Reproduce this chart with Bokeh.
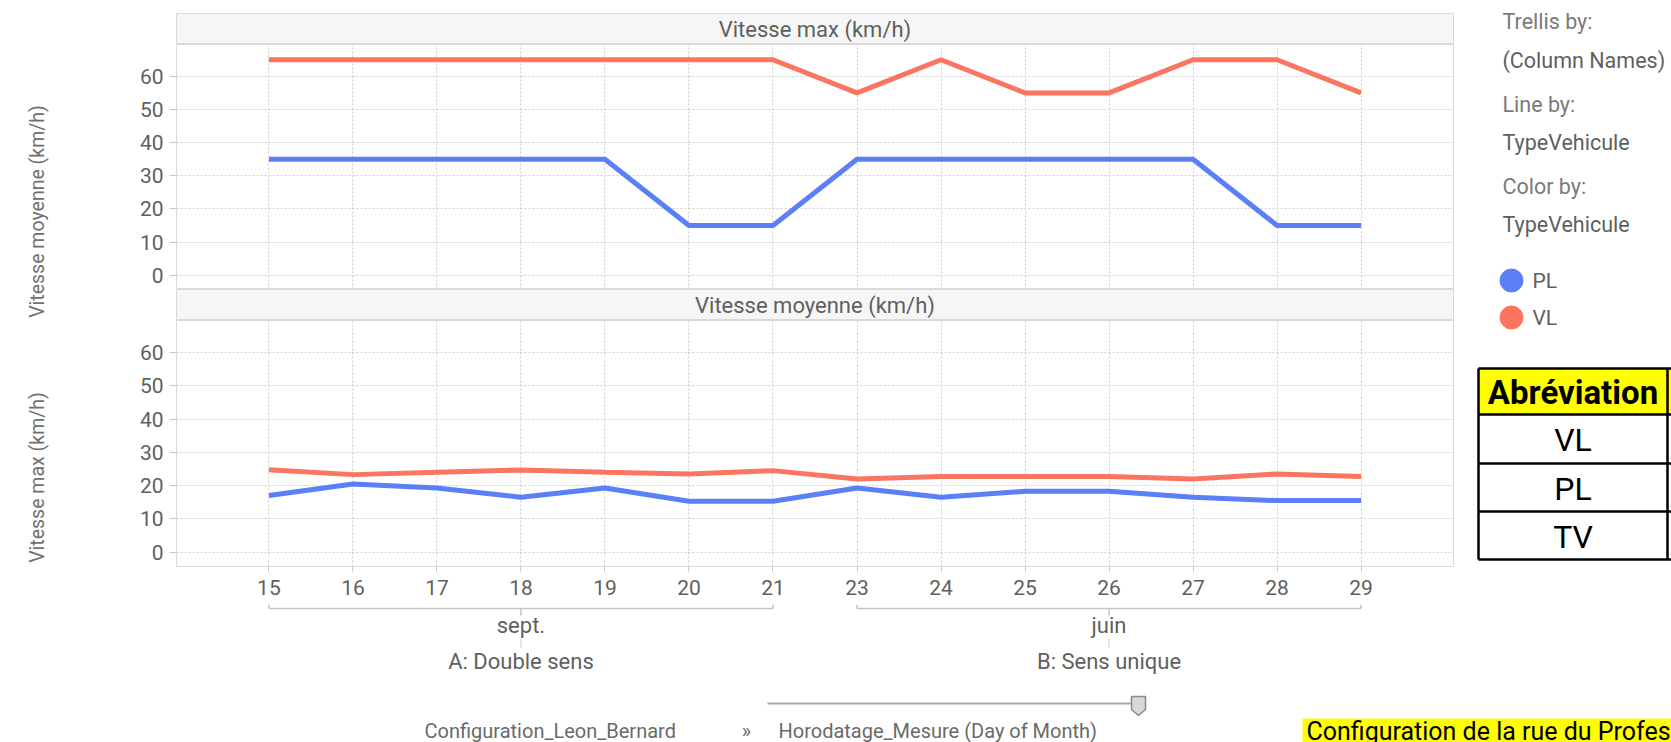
import math
from bokeh.plotting import figure
from bokeh.models import FactorRange, Range1d, FixedTicker
from bokeh.layouts import row, column
from bokeh.embed import file_html
from bokeh.resources import INLINE
from bokeh.core.properties import value

# ---------------- data ----------------
days = ["15", "16", "17", "18", "19", "20", "21", "23", "24", "25", "26", "27", "28", "29"]
months = ["sept."] * 7 + ["juin"] * 7
configs = ["A: Double sens"] * 7 + ["B: Sens unique"] * 7

vmax_pl = [35, 35, 35, 35, 35, 15, 15, 35, 35, 35, 35, 35, 15, 15]
vmax_vl = [65, 65, 65, 65, 65, 65, 65, 55, 65, 55, 55, 65, 65, 55]
vmoy_pl = [17.0, 20.5, 19.3, 16.5, 19.3, 15.3, 15.3, 19.3, 16.5, 18.3, 18.3, 16.5, 15.5, 15.5]
vmoy_vl = [24.8, 23.3, 24.0, 24.7, 24.0, 23.5, 24.5, 22.0, 22.7, 22.7, 22.7, 22.0, 23.5, 22.7]

y_ticks = [0, 10, 20, 30, 40, 50, 60]
series = ["PL", "VL"]
panel_titles = ["Vitesse max (km/h)", "Vitesse moyenne (km/h)"]
row_labels = ["Vitesse moyenne (km/h)", "Vitesse max (km/h)"]
legend_lines = [("Trellis by:", "(Column Names)"), ("Line by:", "TypeVehicule"), ("Color by:", "TypeVehicule")]
table_header = "Abréviation"
table_rows = ["VL", "PL", "TV"]
footer_items = ["Configuration_Leon_Bernard", "»", "Horodatage_Mesure (Day of Month)"]
note_text = "Configuration de la rue du Professeur Léon Bernard"

# ---------------- style ----------------
BLUE = "#5a7ff6"
RED = "#fb7560"
COLORS = {"PL": BLUE, "VL": RED}
FONT = value("Roboto")
GRID = "#cfcfcf"
FRAME = "#d9d9d9"
TXT = "#5f5f5f"

W_TOTAL, H_TOTAL = 1671, 742
W_LEFT = 108
W_TR = 1347
W_RIGHT = W_TOTAL - W_LEFT - W_TR
H_TOP = 690
MBL = 68
MBR = 2

xr = FactorRange(factors=days, range_padding=0.6, range_padding_units="absolute")


def base(width, height, **kw):
    f = figure(width=width, height=height, toolbar_location=None, output_backend="svg", **kw)
    f.border_fill_color = "white"
    return f


def header(title, h, top):
    f = base(W_TR, h, x_range=Range1d(0, 1), y_range=Range1d(0, 1),
             x_axis_location=None, y_axis_location=None,
             min_border_left=MBL, min_border_right=MBR, min_border_top=top, min_border_bottom=0)
    f.grid.visible = False
    f.background_fill_color = "#f6f6f6"
    f.outline_line_color = FRAME
    f.text(x=[0.5], y=[0.5], text=[title], text_align="center", text_baseline="middle",
           text_font=FONT, text_font_size="22px", text_color=TXT)
    return f


def panel(h, mbb, pl, vl, show_x):
    f = base(W_TR, h, x_range=xr, y_range=Range1d(-4.3, 69.6),
             x_axis_location="below" if show_x else None,
             min_border_left=MBL, min_border_right=MBR, min_border_top=0, min_border_bottom=mbb)
    f.outline_line_color = FRAME
    f.line(x=days, y=vl, color=COLORS["VL"], line_width=5)
    f.line(x=days, y=pl, color=COLORS["PL"], line_width=5)
    f.yaxis.ticker = FixedTicker(ticks=y_ticks)
    f.yaxis.axis_line_color = None
    f.yaxis.major_tick_line_color = "#c8c8c8"
    f.yaxis.major_tick_out = 7
    f.yaxis.major_tick_in = 0
    f.yaxis.minor_tick_line_color = None
    f.yaxis.major_label_standoff = 6
    f.yaxis.major_label_text_font = "Roboto"
    f.yaxis.major_label_text_font_size = "21px"
    f.yaxis.major_label_text_color = TXT
    for g in f.grid:
        g.grid_line_color = GRID
        g.grid_line_dash = "2 2"
        g.grid_line_width = 1
    if show_x:
        f.xaxis.axis_line_color = None
        f.xaxis.major_tick_line_color = "#c8c8c8"
        f.xaxis.major_tick_out = 5
        f.xaxis.major_tick_in = 0
        f.xaxis.major_label_standoff = 8
        f.xaxis.major_label_text_font = "Roboto"
        f.xaxis.major_label_text_font_size = "21px"
        f.xaxis.major_label_text_color = TXT
    return f


H_H1, H_P1, H_H2, H_P2 = 44, 245, 31, 284
h1 = header(panel_titles[0], H_H1, 13)
p1 = panel(H_P1, 0, vmax_pl, vmax_vl, False)
h2 = header(panel_titles[1], H_H2, 0)
p2 = panel(H_P2, 38, vmoy_pl, vmoy_vl, True)

# brackets + group labels (y in px from the top of this strip)
BH = H_TOP - H_H1 - H_P1 - H_H2 - H_P2
bf = base(W_TR, BH, x_range=xr, y_range=Range1d(BH, 0),
          x_axis_location=None, y_axis_location=None,
          min_border_left=MBL, min_border_right=MBR, min_border_top=0, min_border_bottom=0)
bf.grid.visible = False
bf.outline_line_color = None
groups = []
for m, c in zip(months, configs):
    if (m, c) not in groups:
        groups.append((m, c))
BR = "#c4c4c4"
for m, c in groups:
    ds = [d for d, mm, cc in zip(days, months, configs) if mm == m and cc == c]
    mid = ds[len(ds) // 2]
    bf.segment(x0=[ds[0]], y0=[4], x1=[ds[-1]], y1=[4], line_color=BR, line_width=1.5)
    bf.segment(x0=[ds[0], ds[-1]], y0=[0, 0], x1=[ds[0], ds[-1]], y1=[4, 4], line_color=BR, line_width=1.5)
    bf.segment(x0=[mid], y0=[4], x1=[mid], y1=[11], line_color=BR, line_width=1.5)
    bf.segment(x0=[mid], y0=[34], x1=[mid], y1=[43], line_color="#dddddd", line_width=1.5)
    bf.text(x=[mid], y=[21], text=[m], text_align="center", text_baseline="middle",
            text_font=FONT, text_font_size="22px", text_color=TXT)
    bf.text(x=[mid], y=[57], text=[c], text_align="center", text_baseline="middle",
            text_font=FONT, text_font_size="22px", text_color=TXT)

trellis = column(h1, p1, h2, p2, bf, spacing=0)

# left row labels
lf = base(W_LEFT, H_TOP, x_range=Range1d(0, W_LEFT), y_range=Range1d(H_TOP, 0),
          x_axis_location=None, y_axis_location=None,
          min_border_left=0, min_border_right=0, min_border_top=0, min_border_bottom=0)
lf.grid.visible = False
lf.outline_line_color = None
lf.text(x=[37, 37], y=[211, 477], text=row_labels, angle=math.pi / 2, text_align="center",
        text_baseline="middle", text_font=FONT, text_font_size="19.5px", text_color="#707070")

# right legend + table
x0r = W_LEFT + W_TR
rf = base(W_RIGHT, H_TOP, x_range=Range1d(x0r, x0r + W_RIGHT), y_range=Range1d(H_TOP, 0),
          x_axis_location=None, y_axis_location=None,
          min_border_left=0, min_border_right=0, min_border_top=0, min_border_bottom=0)
rf.grid.visible = False
rf.outline_line_color = None
ly = [21, 60, 104, 142, 186, 224]
ltxt = [t for pair in legend_lines for t in pair]
lcol = ["#7a7a7a", "#5f5f5f"] * 3
rf.text(x=[1502] * 6, y=ly, text=ltxt, text_align="left", text_baseline="middle",
        text_font=FONT, text_font_size="21.5px", text_color=lcol)
rf.scatter(x=[1511, 1511], y=[280, 317], size=23, marker="circle",
           fill_color=[COLORS[s] for s in series], line_color=[COLORS[s] for s in series])
rf.text(x=[1532, 1532], y=[280, 317], text=series, text_align="left", text_baseline="middle",
        text_font=FONT, text_font_size="21px", text_color="#5f5f5f")

TL, TC, TR = 1478, 1667, 1720
ty = [368, 414, 463, 511, 559]
rf.quad(left=[TL], right=[TR], top=[ty[0]], bottom=[ty[1]], fill_color="#ffff00", line_color=None)
rf.segment(x0=[TL] * 5, y0=ty, x1=[TR] * 5, y1=ty, line_color="black", line_width=2.5)
rf.segment(x0=[TL, TC], y0=[ty[0]] * 2, x1=[TL, TC], y1=[ty[-1]] * 2, line_color="black", line_width=2.5)
cx = (TL + TC) / 2
rf.text(x=[cx], y=[(ty[0] + ty[1]) / 2 + 1], text=[table_header], text_align="center",
        text_baseline="middle", text_font=FONT, text_font_size="33px", text_font_style="bold",
        text_color="black")
rf.text(x=[cx] * 3, y=[(ty[i] + ty[i + 1]) / 2 + 1 for i in range(1, 4)], text=table_rows,
        text_align="center", text_baseline="middle", text_font=FONT, text_font_size="32px",
        text_color="black")

top_row = row(lf, trellis, rf, spacing=0)

# footer
FH = H_TOTAL - H_TOP
ff = base(W_TOTAL, FH, x_range=Range1d(0, W_TOTAL), y_range=Range1d(H_TOTAL, H_TOP),
          x_axis_location=None, y_axis_location=None,
          min_border_left=0, min_border_right=0, min_border_top=0, min_border_bottom=0)
ff.grid.visible = False
ff.outline_line_color = None
ff.segment(x0=[767], y0=[703], x1=[1136], y1=[703], line_color="#a8a8a8", line_width=2)
hx = 1138
ff.patch(x=[hx - 7, hx + 7, hx + 7, hx, hx - 7], y=[696, 696, 709, 715, 709],
         fill_color="#d6d8dc", line_color="#8a8a8a", line_width=1.5)
ff.text(x=[424, 746, 778], y=[730, 730, 730], text=footer_items,
        text_align=["left", "center", "left"], text_baseline="middle",
        text_font=FONT, text_font_size="20px", text_color="#6a6a6a")
ff.quad(left=[1302], right=[1720], top=[718], bottom=[742], fill_color="#ffff00", line_color=None)
ff.text(x=[1306], y=[731], text=[note_text], text_align="left", text_baseline="middle",
        text_font=FONT, text_font_size="25px", text_color="black")

layout = column(top_row, ff, spacing=0)

open("out.html", "w").write(file_html(layout, INLINE))
